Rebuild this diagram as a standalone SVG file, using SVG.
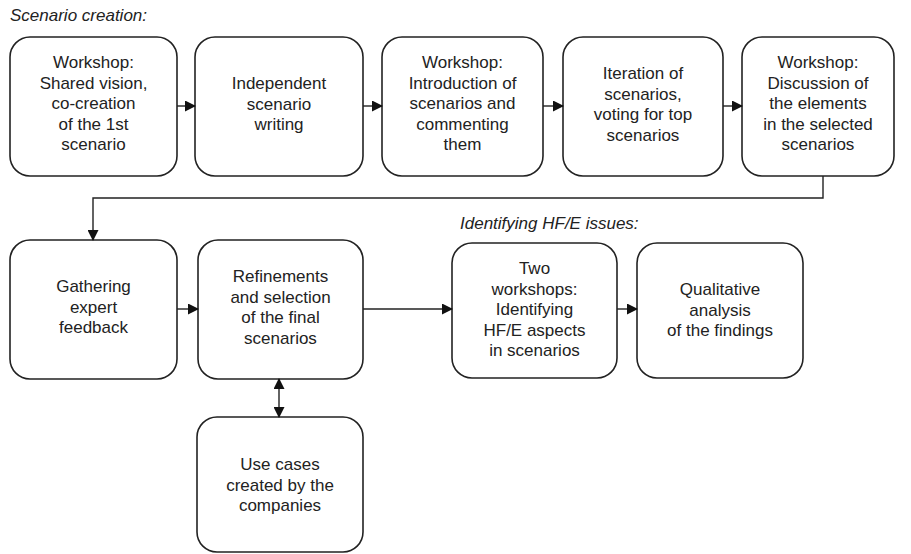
<svg xmlns="http://www.w3.org/2000/svg" width="911" height="554" viewBox="0 0 911 554">
<defs>
<marker id="ah" markerWidth="11" markerHeight="11" refX="10" refY="5.5" orient="auto-start-reverse" markerUnits="userSpaceOnUse">
<path d="M0,0 L11,5.5 L0,11 Z" fill="#111"/>
</marker>
<style>
.box{fill:#fff;stroke:#222;stroke-width:1.6}
.t{font-family:"Liberation Sans",Arial,sans-serif;font-size:17px;fill:#222;text-anchor:middle}
.h{font-family:"Liberation Sans",Arial,sans-serif;font-size:17px;font-style:italic;fill:#222}
.c{fill:none;stroke:#222;stroke-width:1.4}
</style>
</defs>
<rect width="911" height="554" fill="#fff"/>
<text class="h" x="10" y="21">Scenario creation:</text>
<text class="h" x="460" y="229">Identifying HF/E issues:</text>

<g id="n1"><rect class="box" x="10" y="37" width="167" height="139" rx="20"/>
<text class="t" x="93.5" y="68">Workshop:<tspan x="93.5" dy="20.5">Shared vision,</tspan><tspan x="93.5" dy="20.5">co-creation</tspan><tspan x="93.5" dy="20.5">of the 1st</tspan><tspan x="93.5" dy="20.5">scenario</tspan></text></g>

<g id="n2"><rect class="box" x="195" y="37" width="168" height="139" rx="20"/>
<text class="t" x="279" y="89">Independent<tspan x="279" dy="20.5">scenario</tspan><tspan x="279" dy="20.5">writing</tspan></text></g>

<g id="n3"><rect class="box" x="382" y="37" width="161" height="139" rx="20"/>
<text class="t" x="462.5" y="68">Workshop:<tspan x="462.5" dy="20.5">Introduction of</tspan><tspan x="462.5" dy="20.5">scenarios and</tspan><tspan x="462.5" dy="20.5">commenting</tspan><tspan x="462.5" dy="20.5">them</tspan></text></g>

<g id="n4"><rect class="box" x="563" y="37" width="160" height="139" rx="20"/>
<text class="t" x="643" y="79">Iteration of<tspan x="643" dy="20.5">scenarios,</tspan><tspan x="643" dy="20.5">voting for top</tspan><tspan x="643" dy="20.5">scenarios</tspan></text></g>

<g id="n5"><rect class="box" x="742" y="37" width="152" height="139" rx="20"/>
<text class="t" x="818" y="68">Workshop:<tspan x="818" dy="20.5">Discussion of</tspan><tspan x="818" dy="20.5">the elements</tspan><tspan x="818" dy="20.5">in the selected</tspan><tspan x="818" dy="20.5">scenarios</tspan></text></g>

<g id="n6"><rect class="box" x="10" y="240" width="167" height="139" rx="20"/>
<text class="t" x="93.5" y="292">Gathering<tspan x="93.5" dy="20.5">expert</tspan><tspan x="93.5" dy="20.5">feedback</tspan></text></g>

<g id="n7"><rect class="box" x="198" y="240" width="165" height="139" rx="20"/>
<text class="t" x="280.5" y="282">Refinements<tspan x="280.5" dy="20.5">and selection</tspan><tspan x="280.5" dy="20.5">of the final</tspan><tspan x="280.5" dy="20.5">scenarios</tspan></text></g>

<g id="n8"><rect class="box" x="452" y="243" width="165" height="135" rx="20"/>
<text class="t" x="534.5" y="274">Two<tspan x="534.5" dy="20.5">workshops:</tspan><tspan x="534.5" dy="20.5">Identifying</tspan><tspan x="534.5" dy="20.5">HF/E aspects</tspan><tspan x="534.5" dy="20.5">in scenarios</tspan></text></g>

<g id="n9"><rect class="box" x="637" y="243" width="166" height="135" rx="20"/>
<text class="t" x="720" y="295">Qualitative<tspan x="720" dy="20.5">analysis</tspan><tspan x="720" dy="20.5">of the findings</tspan></text></g>

<g id="n10"><rect class="box" x="197" y="417" width="166" height="135" rx="20"/>
<text class="t" x="280" y="470">Use cases<tspan x="280" dy="20.5">created by the</tspan><tspan x="280" dy="20.5">companies</tspan></text></g>

<g id="connectors">
<line class="c" x1="177" y1="106" x2="195" y2="106" marker-end="url(#ah)"/>
<line class="c" x1="363" y1="106" x2="382" y2="106" marker-end="url(#ah)"/>
<line class="c" x1="543" y1="106" x2="563" y2="106" marker-end="url(#ah)"/>
<line class="c" x1="723" y1="106" x2="742" y2="106" marker-end="url(#ah)"/>
<polyline class="c" points="823,176 823,198 93,198 93,240" marker-end="url(#ah)"/>
<line class="c" x1="177" y1="309" x2="198" y2="309" marker-end="url(#ah)"/>
<line class="c" x1="363" y1="309" x2="452" y2="309" marker-end="url(#ah)"/>
<line class="c" x1="617" y1="309" x2="637" y2="309" marker-end="url(#ah)"/>
<line class="c" x1="279" y1="379" x2="279" y2="417" marker-start="url(#ah)" marker-end="url(#ah)"/>
</g>
</svg>
